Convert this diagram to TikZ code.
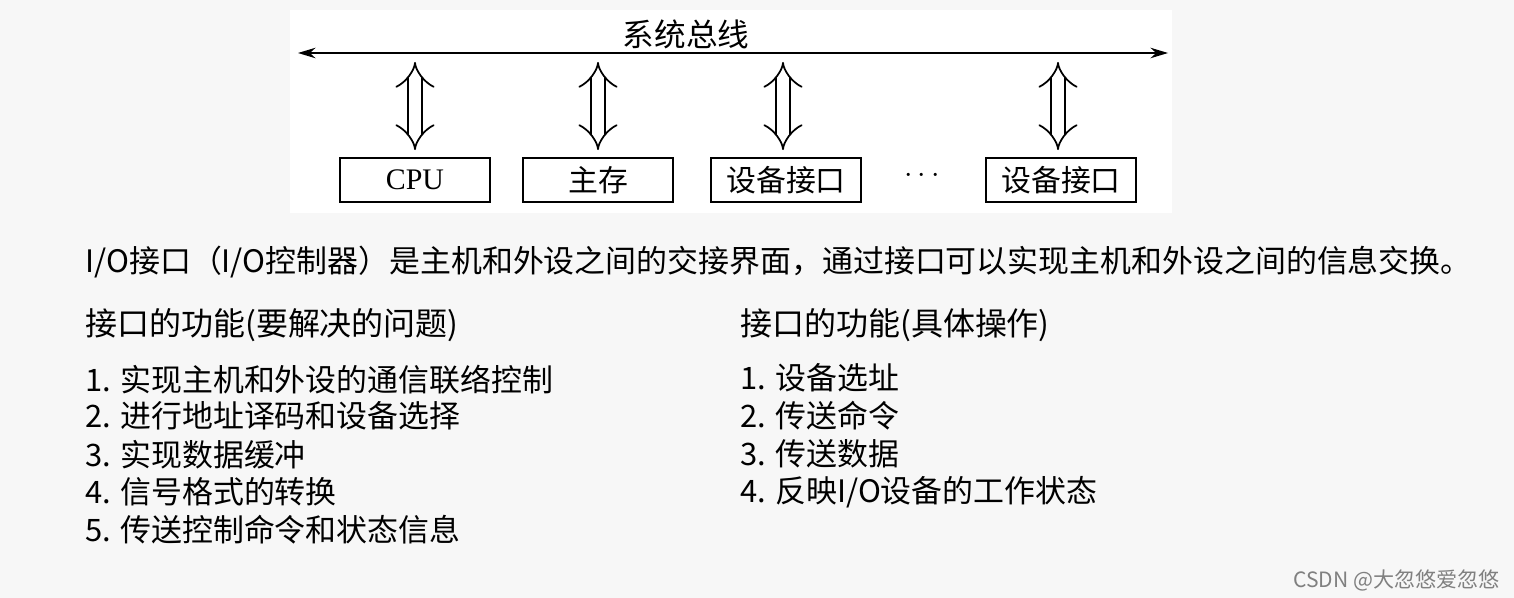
\documentclass[tikz,border=0pt]{standalone}
\usepackage{fontspec}
\setmainfont{Liberation Serif}
\newfontfamily\cjk{Noto Sans CJK SC}
\usetikzlibrary{arrows.meta, positioning}

\begin{document}
\begin{tikzpicture}[
  x=0.02cm, y=-0.02cm,
  unit/.style={draw, thick, minimum width=3cm, minimum height=0.88cm, font=\fontsize{17}{19}\selectfont\cjk, inner sep=0pt},
  bus/.style={{Stealth[length=10pt,width=6pt]}-{Stealth[length=10pt,width=6pt]}, thick},
  link/.style={{Implies}-{Implies}, double, double distance=7pt, line width=1pt},
  txt/.style={anchor=west, font=\fontsize{17.6}{19}\selectfont\cjk, inner sep=0pt},
]

% Background
\fill[gray!6] (0,0) rectangle (1514,598);
\fill[white] (290,10) rectangle (1172,213);

% Bus
\coordinate (busL) at (298,53);
\coordinate (busR) at (1168,53);
\draw [bus] (busL) -- (busR);
\node (busname) [font=\fontsize{18}{20}\selectfont\cjk] at (686,34) {系统总线};

% Units
\node (cpu)  [unit] at (415,180) {\rmfamily CPU};
\node (mem)  [unit] at (598,180) {主存};
\node (dev1) [unit] at (786,180) {设备接口};
\node (dots) [font=\LARGE\bfseries] at (922,176) {$\cdots$};
\node (dev2) [unit] at (1061,180) {设备接口};

% Links
\foreach \u/\x in {cpu/415, mem/598, dev1/783, dev2/1058}
  \draw [link] (\x,62) -- (\x,150);

% Text
\node (intro) [txt] at (85,262) {I/O接口（I/O控制器）是主机和外设之间的交接界面，通过接口可以实现主机和外设之间的信息交换。};

\node (lhead) [txt, font=\fontsize{18.2}{20}\selectfont\cjk] at (85,325) {接口的功能(要解决的问题)};
\node (l1) [txt] at (85,380) {1. 实现主机和外设的通信联络控制};
\node (l2) [txt] at (85,416) {2. 进行地址译码和设备选择};
\node (l3) [txt] at (85,455) {3. 实现数据缓冲};
\node (l4) [txt] at (85,492) {4. 信号格式的转换};
\node (l5) [txt] at (85,530) {5. 传送控制命令和状态信息};

\node (rhead) [txt, font=\fontsize{18.2}{20}\selectfont\cjk] at (740,325) {接口的功能(具体操作)};
\node (r1) [txt] at (740,378) {1. 设备选址};
\node (r2) [txt] at (740,416) {2. 传送命令};
\node (r3) [txt] at (740,454) {3. 传送数据};
\node (r4) [txt] at (740,492) {4. 反映I/O设备的工作状态};

\node (mark) [anchor=east, text=gray, font=\fontsize{12}{14}\selectfont\cjk, inner sep=0pt] at (1500,580) {CSDN @大忽悠爱忽悠};
\end{tikzpicture}
\end{document}
